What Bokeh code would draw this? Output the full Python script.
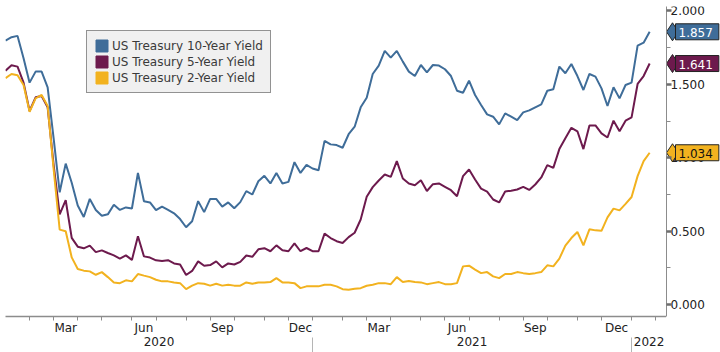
import pandas as pd
from bokeh.plotting import figure
from bokeh.layouts import row
from bokeh.core.properties import value
from bokeh.models import (ColumnDataSource, Range1d, LinearAxis, FixedTicker,
                          CustomJSTickFormatter, Legend, LegendItem)
from bokeh.embed import file_html
from bokeh.resources import INLINE

# ---------------- data ----------------
start_date = "2020-01-03"
n_weeks = 108
dates = pd.date_range(start_date, periods=n_weeks, freq="7D")

ust10 = [1.797, 1.820, 1.829, 1.677, 1.511, 1.586, 1.586, 1.479, 1.130, 0.765,
         0.960, 0.830, 0.675, 0.597, 0.720, 0.645, 0.605, 0.615, 0.680, 0.645,
         0.662, 0.655, 0.897, 0.704, 0.696, 0.643, 0.668, 0.646, 0.622, 0.583,
         0.527, 0.568, 0.705, 0.630, 0.720, 0.720, 0.668, 0.696, 0.657, 0.698,
         0.773, 0.750, 0.840, 0.877, 0.825, 0.897, 0.825, 0.836, 0.970, 0.897,
         0.952, 0.927, 0.915, 1.115, 1.091, 1.086, 1.068, 1.160, 1.211, 1.343,
         1.408, 1.570, 1.627, 1.727, 1.681, 1.727, 1.654, 1.586, 1.556, 1.631,
         1.581, 1.631, 1.627, 1.602, 1.556, 1.456, 1.442, 1.524, 1.427, 1.359,
         1.295, 1.279, 1.227, 1.302, 1.279, 1.256, 1.309, 1.322, 1.343, 1.363,
         1.456, 1.466, 1.620, 1.575, 1.638, 1.556, 1.461, 1.570, 1.552, 1.472,
         1.352, 1.479, 1.404, 1.495, 1.511, 1.763, 1.783, 1.857]

ust5 = [1.592, 1.629, 1.620, 1.511, 1.318, 1.411, 1.420, 1.343, 0.950, 0.615,
        0.711, 0.455, 0.395, 0.384, 0.402, 0.358, 0.370, 0.352, 0.336, 0.314,
        0.336, 0.305, 0.466, 0.329, 0.321, 0.302, 0.297, 0.303, 0.281, 0.274,
        0.202, 0.230, 0.295, 0.265, 0.270, 0.295, 0.254, 0.281, 0.274, 0.292,
        0.335, 0.326, 0.377, 0.385, 0.364, 0.404, 0.370, 0.364, 0.418, 0.364,
        0.386, 0.364, 0.364, 0.484, 0.454, 0.432, 0.420, 0.460, 0.490, 0.580,
        0.735, 0.800, 0.845, 0.886, 0.870, 0.977, 0.859, 0.825, 0.813, 0.847,
        0.774, 0.820, 0.825, 0.802, 0.779, 0.738, 0.875, 0.920, 0.852, 0.790,
        0.770, 0.716, 0.696, 0.770, 0.776, 0.784, 0.802, 0.781, 0.818, 0.866,
        0.950, 0.931, 1.059, 1.132, 1.204, 1.180, 1.059, 1.220, 1.220, 1.166,
        1.138, 1.252, 1.181, 1.252, 1.275, 1.502, 1.556, 1.641]

ust2 = [1.541, 1.570, 1.561, 1.495, 1.313, 1.404, 1.427, 1.352, 0.920, 0.511,
        0.500, 0.322, 0.243, 0.232, 0.227, 0.204, 0.222, 0.188, 0.152, 0.147,
        0.166, 0.159, 0.209, 0.198, 0.188, 0.170, 0.159, 0.159, 0.152, 0.147,
        0.106, 0.130, 0.147, 0.143, 0.130, 0.143, 0.130, 0.136, 0.130, 0.130,
        0.152, 0.143, 0.152, 0.152, 0.154, 0.181, 0.152, 0.152, 0.147, 0.113,
        0.125, 0.125, 0.125, 0.136, 0.136, 0.125, 0.106, 0.102, 0.109, 0.113,
        0.129, 0.136, 0.147, 0.147, 0.140, 0.188, 0.154, 0.161, 0.154, 0.152,
        0.140, 0.147, 0.154, 0.140, 0.140, 0.147, 0.261, 0.266, 0.239, 0.215,
        0.222, 0.193, 0.181, 0.209, 0.209, 0.222, 0.215, 0.209, 0.215, 0.222,
        0.268, 0.261, 0.314, 0.402, 0.454, 0.495, 0.404, 0.513, 0.506, 0.503,
        0.594, 0.654, 0.642, 0.686, 0.733, 0.875, 0.977, 1.034]

series_names = ["US Treasury 10-Year Yield", "US Treasury 5-Year Yield",
                "US Treasury 2-Year Yield"]
last_labels = ["1.857", "1.641", "1.034"]
y_ticks = [0.0, 0.5, 1.0, 1.5, 2.0]
y_minor_ticks = [0.25, 0.75, 1.25, 1.75]
month_labels = {3: "Mar", 6: "Jun", 9: "Sep", 12: "Dec"}

# ---------------- styles ----------------
C10, C5, C2 = "#3f6d99", "#6d1a4d", "#f2b21f"
FONT = "DejaVu Sans"
TXT = "#222222"
AXC = "#8c8c8c"
TOP, BOTTOM = 6, 36


def ms(ts):
    return ts.value / 1e6


x_start = dates[0]
x_end = dates[0] + pd.Timedelta(days=7 * 109.8)

# month boundaries: last weekly date of each month
fridays = pd.date_range(x_start, x_end + pd.Timedelta(days=42), freq="7D")
month_ticks = [fridays[k] for k in range(len(fridays) - 1)
               if fridays[k].month != fridays[k + 1].month and fridays[k] <= x_end]
lab_pos, lab_txt = [], []
for a, b in zip(month_ticks[:-1], month_ticks[1:]):
    if b.month in month_labels:
        lab_pos.append(ms(a) + (ms(b) - ms(a)) / 2)
        lab_txt.append(month_labels[b.month])
year_seps = [t for t in month_ticks if t.month == 12]
bounds = [x_start] + year_seps + [x_end]
yr_pos, yr_txt = [], []
for a, b in zip(bounds[:-1], bounds[1:]):
    yr_pos.append(ms(a) + (ms(b) - ms(a)) / 2)
    yr_txt.append(str(b.year))

src = ColumnDataSource(dict(date=dates, y10=ust10, y5=ust5, y2=ust2))
yr = Range1d(-0.080, 2.029)

p = figure(width=666, height=352, output_backend="svg", toolbar_location=None,
           x_axis_type=None, y_axis_location=None,
           x_range=Range1d(x_start, x_end), y_range=yr,
           min_border_left=5, min_border_right=0, min_border_top=TOP,
           min_border_bottom=BOTTOM)
p.outline_line_color = None
p.xgrid.visible = False
p.ygrid.visible = False

r10 = p.line("date", "y10", source=src, line_color=C10, line_width=2)
r5 = p.line("date", "y5", source=src, line_color=C5, line_width=2)
r2 = p.line("date", "y2", source=src, line_color=C2, line_width=2)

code = """
for (let j = 0; j < pos.length; j++) {
  if (Math.abs(pos[j] - tick) < 1000) { return txt[j]; }
}
return "";
"""

xa = LinearAxis(ticker=FixedTicker(ticks=lab_pos, minor_ticks=[ms(t) for t in month_ticks]),
                formatter=CustomJSTickFormatter(args=dict(pos=lab_pos, txt=lab_txt), code=code),
                axis_line_color=AXC, axis_line_width=1.5,
                major_tick_out=0, major_tick_in=0,
                minor_tick_out=4, minor_tick_in=0, minor_tick_line_color=AXC,
                major_label_standoff=0, major_label_text_font=FONT,
                major_label_text_font_size="12px", major_label_text_color=TXT)
p.add_layout(xa, "below")

xy = LinearAxis(ticker=FixedTicker(ticks=yr_pos, minor_ticks=[ms(t) for t in year_seps]),
                formatter=CustomJSTickFormatter(args=dict(pos=yr_pos, txt=yr_txt), code=code),
                axis_line_color=None, major_tick_line_color=None,
                major_tick_out=0, major_tick_in=0,
                minor_tick_out=16, minor_tick_in=0, minor_tick_line_color="#b5b5b5",
                major_label_standoff=-17, major_label_text_font=FONT,
                major_label_text_font_size="12px", major_label_text_color=TXT)
p.add_layout(xy, "below")

# legend with square swatches
nan = float("nan")
sw = []
for c in (C10, C5, C2):
    sw.append(p.quad(left=[nan], right=[nan], top=[nan], bottom=[nan],
                     fill_color=c, line_color=c))
legend = Legend(items=[LegendItem(label=n, renderers=[r]) for n, r in zip(series_names, sw)],
                location=(81, 223), background_fill_color="#f0f0f0", background_fill_alpha=1,
                border_line_color="#333333", border_line_width=1.5,
                label_text_font=FONT, label_text_font_size="12px", label_text_color="#3a3a3a",
                glyph_width=15, glyph_height=15, label_height=14, spacing=1,
                padding=7, margin=0, label_standoff=3)
p.add_layout(legend)

# ---------------- right-hand value axis strip ----------------
q = figure(width=54, height=352, output_backend="svg", toolbar_location=None,
           x_axis_type=None, x_range=Range1d(0, 54), y_range=yr,
           min_border_left=0, min_border_right=0, min_border_top=TOP,
           min_border_bottom=BOTTOM)
q.outline_line_color = None
q.xgrid.visible = False
q.ygrid.visible = False
qa = q.yaxis[0]
qa.ticker = FixedTicker(ticks=y_ticks, minor_ticks=y_minor_ticks)
qa.formatter = CustomJSTickFormatter(code="return '';")
qa.axis_line_color = AXC
qa.major_tick_out = 0
qa.major_tick_in = 5
qa.major_tick_line_width = 2.5
qa.major_tick_line_color = "#6e6e6e"
qa.minor_tick_out = 0
qa.minor_tick_in = 4
qa.minor_tick_line_color = AXC
qa.major_label_standoff = 0

q.text(x=[4] * len(y_ticks), y=y_ticks, text=[f"{v:.3f}" for v in y_ticks],
       text_font=value(FONT), text_font_size="12px", text_color=TXT,
       text_baseline="middle", text_align="left")

for val, txt, bg, fg in zip([ust10[-1], ust5[-1], ust2[-1]], last_labels,
                            (C10, C5, C2), ("white", "white", "#111111")):
    q.scatter(x=[6], y=[val], marker="diamond", size=18, fill_color=bg,
              line_color="#222222", line_width=1)
    q.text(x=[9], y=[val], text=[txt], text_font=value(FONT), text_font_size="12px",
           text_color=fg, text_baseline="middle", text_align="left",
           background_fill_color=bg, border_line_color="#222222",
           border_line_width=1,
           padding=dict(left=3, right=6, top=4, bottom=3))

layout = row(p, q, spacing=0)
open("out.html", "w").write(file_html(layout, INLINE))
